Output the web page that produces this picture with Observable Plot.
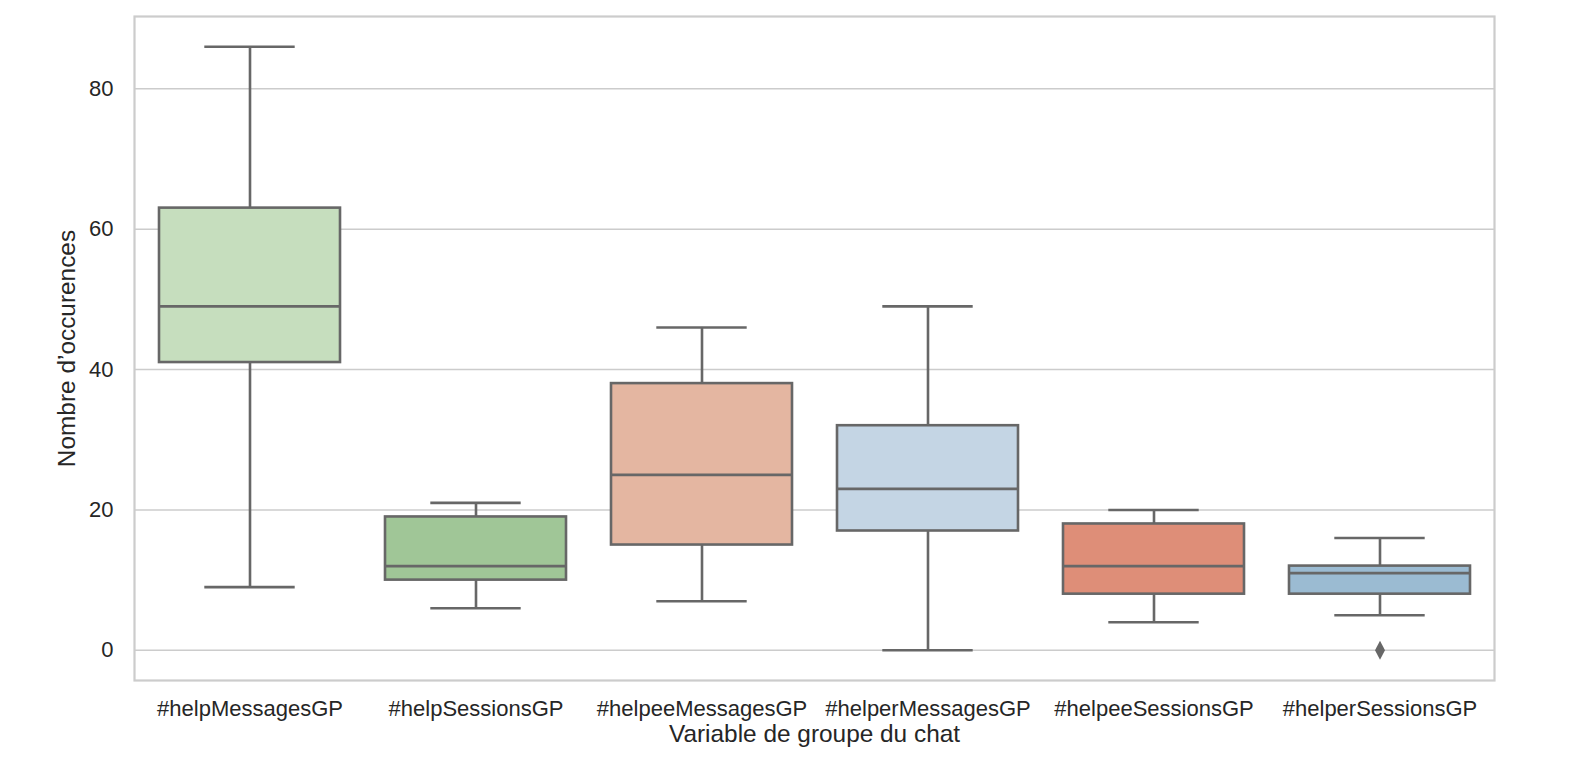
<!DOCTYPE html>
<html>
<head>
<meta charset="utf-8">
<script src="https://cdn.jsdelivr.net/npm/d3@7"></script>
<script src="https://cdn.jsdelivr.net/npm/@observablehq/plot@0.6"></script>
<style>
  html, body { margin: 0; padding: 0; background: #ffffff; }
  #chart svg { display: block; }
</style>
</head>
<body>
<div id="chart"></div>
<script>
// ---- Data ----
const categories = ["#helpMessagesGP", "#helpSessionsGP", "#helpeeMessagesGP", "#helperMessagesGP", "#helpeeSessionsGP", "#helperSessionsGP"];
const whiskerLow  = [9, 6, 7, 0, 4, 5];
const q1          = [41, 10, 15, 17, 8, 8];
const median      = [49, 12, 25, 23, 12, 11];
const q3          = [63, 19, 38, 32, 18, 12];
const whiskerHigh = [86, 21, 46, 49, 20, 16];
const colors      = ["#c6debe", "#a0c697", "#e4b6a1", "#c4d5e4", "#de8e78", "#9bbbd2"];
const outlierCats   = ["#helperSessionsGP"];
const outlierValues = [0];
const yTicks = [0, 20, 40, 60, 80];
const xLabel = "Variable de groupe du chat";
const yLabel = "Nombre d’occurences";

const boxes = categories.map((c, i) => ({
  cat: c, lo: whiskerLow[i], q1: q1[i], med: median[i], q3: q3[i], hi: whiskerHigh[i], color: colors[i]
}));
const outliers = outlierCats.map((c, i) => ({cat: c, value: outlierValues[i]}));

const lineColor = "#676767";
const textColor = "#262626";
const font = "'Liberation Sans', Arial, Helvetica, sans-serif";
const capInset = 45.3;

const thinDiamond = {
  draw(ctx) {
    ctx.moveTo(0, -9.5);
    ctx.lineTo(5, 0);
    ctx.lineTo(0, 9.5);
    ctx.lineTo(-5, 0);
    ctx.closePath();
  }
};

const chart = Plot.plot({
  width: 1594,
  height: 770,
  marginLeft: 134,
  marginRight: 100,
  marginTop: 16,
  marginBottom: 90,
  style: { fontFamily: font, background: "#ffffff", color: textColor },
  x: { type: "band", domain: categories, paddingInner: 0.2, paddingOuter: 0.1, label: null },
  y: { domain: [-4.3, 90.3], label: null },
  color: { type: "identity" },
  marks: [
    Plot.gridY(yTicks, { stroke: "#cccccc", strokeOpacity: 1, strokeWidth: 1.6 }),
    Plot.frame({ stroke: "#cccccc", strokeWidth: 2.2 }),
    Plot.axisY(yTicks, { tickSize: 0, tickPadding: 21, fontSize: 22, fill: textColor, label: null }),
    Plot.axisX({ tickSize: 0, tickPadding: 20, fontSize: 22, fill: textColor, label: null }),
    // whiskers
    Plot.ruleX(boxes, { x: "cat", y1: "q3", y2: "hi", stroke: lineColor, strokeWidth: 2.6 }),
    Plot.ruleX(boxes, { x: "cat", y1: "lo", y2: "q1", stroke: lineColor, strokeWidth: 2.6 }),
    // boxes
    Plot.barY(boxes, { x: "cat", y1: "q1", y2: "q3", fill: "color", stroke: lineColor, strokeWidth: 2.6 }),
    // medians
    Plot.tickY(boxes, { x: "cat", y: "med", stroke: lineColor, strokeWidth: 2.6 }),
    // caps
    Plot.tickY(boxes, { x: "cat", y: "hi", stroke: lineColor, strokeWidth: 2.6, insetLeft: capInset, insetRight: capInset }),
    Plot.tickY(boxes, { x: "cat", y: "lo", stroke: lineColor, strokeWidth: 2.6, insetLeft: capInset, insetRight: capInset }),
    // outliers
    Plot.dot(outliers, { x: "cat", y: "value", symbol: thinDiamond, fill: lineColor, stroke: "none" }),
    // axis titles
    Plot.text([xLabel], { text: d => d, frameAnchor: "bottom", textAnchor: "middle", dy: 61, fontSize: 24.4, fill: textColor }),
    Plot.text([yLabel], { text: d => d, frameAnchor: "left", textAnchor: "middle", dx: -67.5, rotate: -90, fontSize: 24.4, fill: textColor })
  ]
});

document.getElementById("chart").appendChild(chart);
</script>
</body>
</html>
